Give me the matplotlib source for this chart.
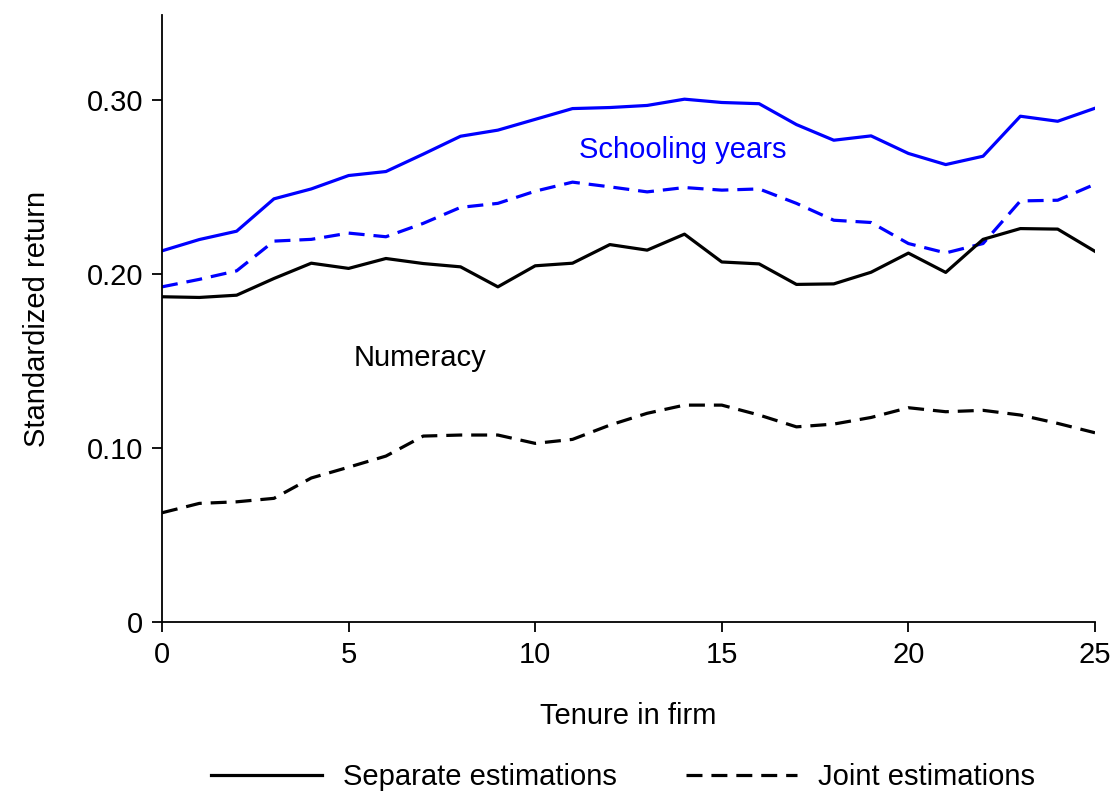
import matplotlib
matplotlib.use("Agg")
import matplotlib.pyplot as plt
import numpy as np
from matplotlib.lines import Line2D

plt.rcParams['font.family'] = ['Liberation Sans', 'DejaVu Sans']

tenure = np.arange(0, 26)

# schooling years
school_sep = [0.2134, 0.2199, 0.2247, 0.2433, 0.2490, 0.2567, 0.2590, 0.2690, 0.2793,
              0.2828, 0.2890, 0.2952, 0.2958, 0.2970, 0.3006, 0.2987, 0.2980, 0.2860,
              0.2770, 0.2795, 0.2694, 0.2630, 0.2678, 0.2908, 0.2879, 0.2954]
school_joint = [0.1927, 0.1970, 0.2019, 0.2190, 0.2200, 0.2236, 0.2215, 0.2292, 0.2384,
                0.2407, 0.2477, 0.2529, 0.2502, 0.2473, 0.2498, 0.2483, 0.2490, 0.2407,
                0.2310, 0.2297, 0.2176, 0.2122, 0.2176, 0.2421, 0.2425, 0.2517]

# numeracy
num_sep = [0.1870, 0.1866, 0.1879, 0.1975, 0.2063, 0.2033, 0.2090, 0.2061, 0.2042,
           0.1927, 0.2048, 0.2063, 0.2170, 0.2138, 0.2230, 0.2070, 0.2059, 0.1941,
           0.1944, 0.2011, 0.2121, 0.2010, 0.2200, 0.2262, 0.2259, 0.2131]
num_joint = [0.0628, 0.0682, 0.0691, 0.0711, 0.0828, 0.0890, 0.0954, 0.1069, 0.1075,
             0.1075, 0.1027, 0.1050, 0.1132, 0.1200, 0.1247, 0.1247, 0.1190, 0.1122,
             0.1138, 0.1176, 0.1232, 0.1209, 0.1217, 0.1190, 0.1142, 0.1088]

yticks = [0, 0.10, 0.20, 0.30]
yticklabels = ["0", "0.10", "0.20", "0.30"]
xticks = [0, 5, 10, 15, 20, 25]

fig = plt.figure(figsize=(11.13, 7.93), dpi=100)
ax = fig.add_axes([162/1113, 1 - 622/793, (1095-162)/1113, (622-15)/793])

dash = (0, (5, 2.8))
ax.plot(tenure, school_sep, color="blue", lw=2.3)
ax.plot(tenure, school_joint, color="blue", lw=2.3, linestyle=dash)
ax.plot(tenure, num_sep, color="black", lw=2.3)
ax.plot(tenure, num_joint, color="black", lw=2.3, linestyle=dash)

ax.text(13.96, 0.2713, "Schooling years", color="blue", fontsize=21, ha="center", va="center")
ax.text(6.91, 0.1517, "Numeracy", color="black", fontsize=21, ha="center", va="center")

ax.set_xlim(0, 25)
ax.set_ylim(0, 0.349)
ax.set_xticks(xticks)
ax.set_yticks(yticks)
ax.set_yticklabels(yticklabels)
ax.tick_params(labelsize=21, length=7.5, width=1.3, pad=6)
for s in ["top", "right"]:
    ax.spines[s].set_visible(False)
for s in ["left", "bottom"]:
    ax.spines[s].set_linewidth(1.3)

ax.set_xlabel("Tenure in firm", fontsize=21, labelpad=24)
ax.set_ylabel("Standardized return", fontsize=21, labelpad=26)

handles = [Line2D([], [], color="black", lw=2.3),
           Line2D([], [], color="black", lw=2.3, linestyle=dash)]
fig.legend(handles, ["Separate estimations", "Joint estimations"], loc="center",
           bbox_to_anchor=(623/1113, 1 - 777/793), ncol=2, frameon=False, fontsize=21,
           handlelength=3.8, columnspacing=2.4, handletextpad=0.7)

fig.savefig("out.png", dpi=100)
